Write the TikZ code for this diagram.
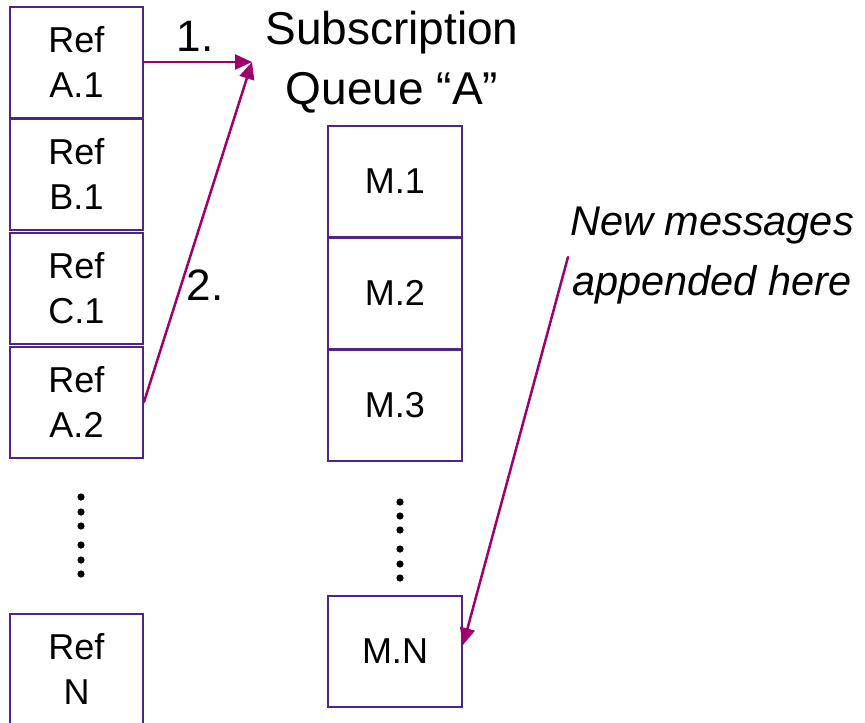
\documentclass[tikz,border=0pt]{standalone}
\usepackage{fontspec}
\setmainfont{Liberation Sans}
\usetikzlibrary{arrows.meta}
\definecolor{cellline}{RGB}{78,36,138}
\definecolor{flow}{RGB}{160,0,108}

\begin{document}
\begin{tikzpicture}[x=1pt,y=-1pt,
  cell/.style={draw=cellline, line width=2pt, fill=white,
    minimum width=133pt, minimum height=111pt, inner sep=0pt,
    align=center, font=\fontsize{36}{45}\selectfont},
  flowarrow/.style={draw=flow, line width=2.5pt, line cap=round,
    -{Triangle[length=17pt,width=15pt]}},
  steplabel/.style={inner sep=0pt, font=\fontsize{44}{50}\selectfont},
  gapdot/.style={fill=black}
]
\useasboundingbox (0,0) rectangle (865,723);

% reference list
\node[cell] (refA1) at (76.5,62)  {Ref\\A.1};
\node[cell] (refB1) at (76.5,174) {Ref\\B.1};
\node[cell] (refC1) at (76.5,288) {Ref\\C.1};
\node[cell] (refA2) at (76.5,402) {Ref\\A.2};
\node[cell] (refN)  at (76.5,669) {Ref\\N};
\foreach \y in {497,512,526,545,560,574}
  \fill[gapdot] (81,\y) circle (3.6pt);

% subscription queue
\node[inner sep=0pt, anchor=north, align=center,
      font=\fontsize{46}{60}\selectfont] (title) at (392,11)
      {Subscription\\Queue “A”};
\node[cell, minimum width=134pt] (m1) at (395,181.5) {M.1};
\node[cell, minimum width=134pt] (m2) at (395,293)   {M.2};
\node[cell, minimum width=134pt] (m3) at (395,405.5) {M.3};
\node[cell, minimum width=134pt] (mN) at (395,651)   {M.N};
\foreach \y in {502,516,530,549,564,578}
  \fill[gapdot] (400,\y) circle (3.6pt);

% note on where new messages go
\node[inner sep=0pt, anchor=north, align=center,
      font=\fontsize{41.5}{60}\selectfont\itshape] (note) at (712,207)
      {New messages\\appended here};

% delivery steps
\coordinate (qin) at (252,62);
\coordinate (noteout) at (568,257);
\draw[flowarrow] (refA1.east) -- (qin);
\draw[flowarrow] (refA2.east) -- (qin);
\draw[flowarrow] (noteout) -- ([yshift=6pt]mN.east);

\node[steplabel] (s1) at (195,36)  {1.};
\node[steplabel] (s2) at (205,285) {2.};
\end{tikzpicture}
\end{document}
